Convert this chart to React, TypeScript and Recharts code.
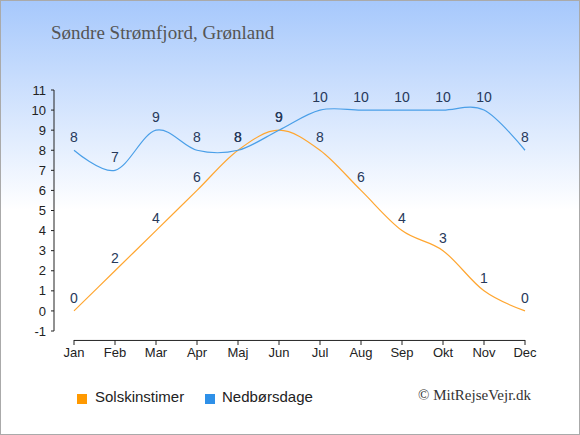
import React from "react"
import { LabelList, Line, LineChart, ReferenceLine, XAxis, YAxis } from "recharts"

const months = ["Jan", "Feb", "Mar", "Apr", "Maj", "Jun", "Jul", "Aug", "Sep", "Okt", "Nov", "Dec"]
const sunHours = [0, 2, 4, 6, 8, 9, 8, 6, 4, 3, 1, 0]
const rainDays = [8, 7, 9, 8, 8, 9, 10, 10, 10, 10, 10, 8]
const yTicks = [-1, 0, 1, 2, 3, 4, 5, 6, 7, 8, 9, 10, 11]
const seriesNames = ["Solskinstimer", "Nedbørsdage"]

const sunColor = "#ffa630"
const rainColor = "#4a9fe8"
const labelColor = "#27395a"

// catmull-rom style curve (cardinal, tension 0), same interface as a d3 curve
const smoothCurve = (context: any) => {
  const k = 1 / 6
  let x0 = NaN, y0 = NaN, x1 = NaN, y1 = NaN, x2 = NaN, y2 = NaN
  let pt = 0
  let line = NaN
  const seg = (x: number, y: number) => {
    context.bezierCurveTo(x1 + k * (x2 - x0), y1 + k * (y2 - y0), x2 + k * (x1 - x), y2 + k * (y1 - y), x2, y2)
  }
  return {
    areaStart() { line = 0 },
    areaEnd() { line = NaN },
    lineStart() {
      x0 = x1 = x2 = y0 = y1 = y2 = NaN
      pt = 0
    },
    lineEnd() {
      if (pt === 2) context.lineTo(x2, y2)
      else if (pt === 3) seg(x1, y1)
      if (line || (line !== 0 && pt === 1)) context.closePath()
      line = 1 - line
    },
    point(xv: number, yv: number) {
      const x = +xv, y = +yv
      if (pt === 0) {
        pt = 1
        line ? context.lineTo(x, y) : context.moveTo(x, y)
      } else if (pt === 1) {
        pt = 2
        x1 = x
        y1 = y
      } else {
        pt = 3
        seg(x, y)
      }
      x0 = x1; x1 = x2; x2 = x
      y0 = y1; y1 = y2; y2 = y
    },
  }
}

const MonthTick = (props: any) => {
  const { x, y, payload } = props
  return (
    <g>
      <line x1={x} x2={x} y1={y + 9} y2={y + 14} stroke="#222" />
      <text x={x} y={y + 26} textAnchor="middle" fontSize={13} fill="#222" fontFamily="'Liberation Sans', Arial, sans-serif">
        {payload.value}
      </text>
    </g>
  )
}

export default function App() {
  const data = months.map((m, i) => ({ month: m, sun: sunHours[i], rain: rainDays[i] }))

  return (
    <div style={{ position: "absolute", left: 0, top: 0, width: 580, height: 435, background: "linear-gradient(to bottom, #a6c8fc 0px, #ffffff 210px)", fontFamily: "'Liberation Sans', Arial, sans-serif" }}>
      <div style={{ position: "absolute", left: 51, top: 22, fontFamily: "'Liberation Serif', serif", fontSize: 19, color: "#555", whiteSpace: "nowrap" }}>
        Søndre Strømfjord, Grønland
      </div>
      <LineChart width={580} height={435} data={data} margin={{ top: 90, right: 35, left: 20, bottom: 74 }}>
        <XAxis
          dataKey="month"
          axisLine={false}
          tickLine={false}
          tickSize={0}
          tickMargin={0}
          height={30}
          padding={{ left: 20, right: 20 }}
          tick={<MonthTick />}
          interval={0}
        />
        <YAxis
          domain={[-1, 11]}
          ticks={yTicks}
          interval={0}
          width={34}
          tickSize={3}
          tickMargin={5}
          stroke="#222"
          tick={{ fill: "#222", fontSize: 13 }}
        />
        <ReferenceLine
          segment={[{ x: "Jan", y: -1.47 }, { x: "Dec", y: -1.47 }]}
          stroke="#222"
          ifOverflow="visible"
        />
        <Line type={smoothCurve as any} dataKey="sun" stroke={sunColor} strokeWidth={1.2} dot={false} isAnimationActive={false}>
          <LabelList dataKey="sun" position="top" offset={8} fill={labelColor} fontSize={14} />
        </Line>
        <Line type={smoothCurve as any} dataKey="rain" stroke={rainColor} strokeWidth={1.2} dot={false} isAnimationActive={false}>
          <LabelList dataKey="rain" position="top" offset={8} fill={labelColor} fontSize={14} />
        </Line>
      </LineChart>
      <div style={{ position: "absolute", left: 77, top: 394, width: 10, height: 10, background: "#ff9900" }} />
      <div style={{ position: "absolute", left: 95, top: 388, fontSize: 15, color: "#222", whiteSpace: "nowrap" }}>{seriesNames[0]}</div>
      <div style={{ position: "absolute", left: 205, top: 394, width: 10, height: 10, background: "#2f90e8" }} />
      <div style={{ position: "absolute", left: 222, top: 388, fontSize: 15, color: "#222", whiteSpace: "nowrap" }}>{seriesNames[1]}</div>
      <div style={{ position: "absolute", left: 418, top: 387, fontFamily: "'Liberation Serif', serif", fontSize: 15, color: "#333", whiteSpace: "nowrap" }}>
        © MitRejseVejr.dk
      </div>
      <div style={{ position: "absolute", left: 0, top: 0, width: 580, height: 435, boxSizing: "border-box", border: "1px solid #aaa", pointerEvents: "none" }} />
    </div>
  )
}
